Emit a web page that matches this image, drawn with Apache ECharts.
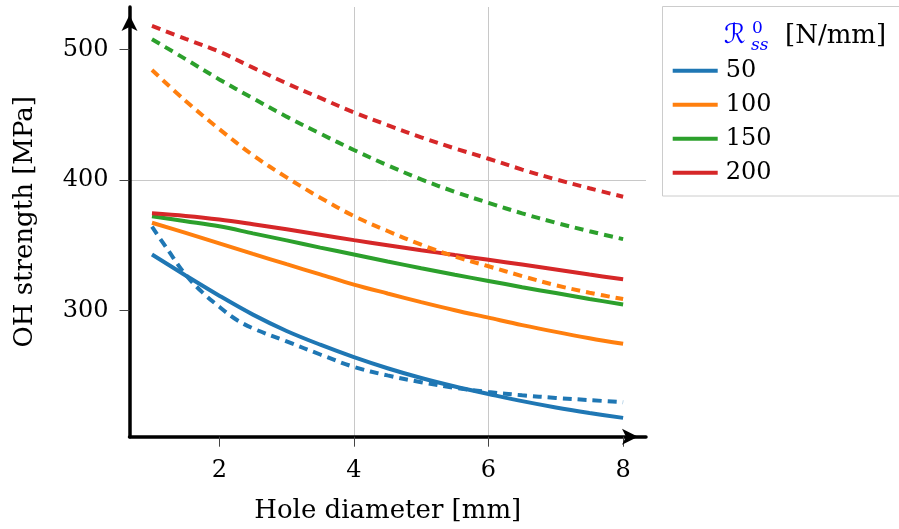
<!DOCTYPE html>
<html><head><meta charset="utf-8">
<script src="https://cdn.jsdelivr.net/npm/echarts@6/dist/echarts.min.js"></script>
<style>html,body{margin:0;padding:0;background:#fff}#c{width:899px;height:529px}</style>
</head><body><div id="c"></div>
<script>
// ---- data ----
const xs = [1, 1.5, 2, 2.5, 3, 3.5, 4, 4.5, 5, 5.5, 6, 6.5, 7, 7.5, 8];
const xsBlueDashed = [1, 1.25, 1.5, 1.75, 2, 2.25, 2.5, 3, 3.5, 4, 4.5, 5, 5.5, 6, 6.5, 7, 7.5, 8];
const legendNames = ['50', '100', '150', '200'];
const solid50  = [343, 327, 311.5, 297, 284.5, 274, 264.5, 256, 248.5, 242, 236.3, 230.8, 226, 221.8, 218];
const solid100 = [367.3, 359.5, 351.5, 343.5, 335.6, 327.8, 320, 313.2, 306.6, 300.4, 294.7, 289, 283.8, 279, 274.7];
const solid150 = [372.3, 368.5, 364.6, 359.2, 353.8, 348.3, 343, 337.7, 332.5, 327.5, 322.8, 318, 313.5, 309, 304.8];
const solid200 = [374.5, 372.5, 369.8, 366.2, 362.3, 358.2, 354, 350.1, 346.3, 342.6, 339, 335.3, 331.5, 327.7, 324];
const dashed50  = [364.3, 345.5, 327.5, 314, 303, 293.3, 286.5, 276.5, 266.5, 257, 250.5, 245.3, 241, 237.8, 235.3, 233.3, 231.6, 230];
const dashed100 = [484.2, 460.5, 439, 419, 402, 386.5, 372.4, 361, 350.5, 341.5, 334, 326.5, 319.5, 313.8, 308.9];
const dashed150 = [507.7, 492.5, 477, 462.5, 448.5, 435.5, 423, 411.3, 400.5, 391, 382.5, 374.5, 367.3, 360.8, 354.8];
const dashed200 = [517.9, 508, 498.2, 486, 474, 462.8, 451.8, 442, 432.7, 424.2, 416.3, 408, 400.5, 393.7, 387.2];
const xTicks = [2, 4, 6, 8];
const yTicks = [300, 400, 500];
const xName = 'Hole diameter [mm]';
const yName = 'OH strength [MPa]';
const legendUnit = '[N/mm]';

// ---- styling ----
const colors = ['#1f77b4', '#ff7f0e', '#2ca02c', '#d62728'];
const FONT = '"DejaVu Serif", serif';
const pairs = (x, y) => x.map((v, i) => [v, y[i]]);

const solids = [solid50, solid100, solid150, solid200];
const dashedSets = [[xsBlueDashed, dashed50], [xs, dashed100], [xs, dashed150], [xs, dashed200]];

const series = [];
solids.forEach((d, i) => series.push({
  name: legendNames[i], type: 'line', data: pairs(xs, d), smooth: 0.35,
  symbol: 'none', showSymbol: false, itemStyle: {color: colors[i]},
  lineStyle: {color: colors[i], width: 4}, emphasis: {disabled: true}, z: 2
}));
dashedSets.forEach((d, i) => series.push({
  name: legendNames[i] + ' dashed', type: 'line', data: pairs(d[0], d[1]), smooth: 0.35,
  symbol: 'none', showSymbol: false, itemStyle: {color: colors[i]},
  lineStyle: {color: colors[i], width: 4, type: [9, 6]}, emphasis: {disabled: true}, z: 3
}));

const chart = echarts.init(document.getElementById('c'), null, {renderer: 'canvas'});
chart.setOption({
  animation: false,
  backgroundColor: '#fff',
  grid: {left: 129.5, top: 7, width: 516.5, height: 429.7, containLabel: false, outerBoundsMode: 'none'},
  xAxis: {
    type: 'value', min: 0.666, max: 8.34,
    name: xName, nameLocation: 'middle', nameGap: 62,
    nameTextStyle: {fontFamily: FONT, fontSize: 26, color: '#000'},
    axisLine: {show: true, onZero: false, symbol: ['none', 'arrow'], symbolSize: [12, 16], symbolOffset: [0, -8],
      lineStyle: {color: '#000', width: 3.5}},
    axisTick: {show: true, customValues: xTicks, length: 10, lineStyle: {color: '#444', width: 1}},
    axisLabel: {customValues: xTicks, margin: 22, fontFamily: FONT, fontSize: 24, color: '#000'},
    splitLine: {show: true, showMinLine: false, showMaxLine: false, lineStyle: {color: '#c8c8c8', width: 1}}
  },
  yAxis: {
    type: 'value', min: 203.6, max: 532.4,
    name: yName, nameLocation: 'middle', nameGap: 91,
    nameTextStyle: {fontFamily: FONT, fontSize: 26, color: '#000'},
    axisLine: {show: true, onZero: false, symbol: ['none', 'arrow'], symbolSize: [12, 16], symbolOffset: [0, -8],
      lineStyle: {color: '#000', width: 3.5}},
    axisTick: {show: true, customValues: yTicks, length: 10, lineStyle: {color: '#444', width: 1}},
    axisLabel: {customValues: yTicks, margin: 21, fontFamily: FONT, fontSize: 24, color: '#000'},
    splitLine: {show: true, showMinLine: false, showMaxLine: false, lineStyle: {color: '#c8c8c8', width: 1}}
  },
  legend: {
    data: legendNames, orient: 'vertical', left: 667.7, top: 53.7,
    icon: 'rect', itemWidth: 45, itemHeight: 4, itemGap: 10,
    textStyle: {fontFamily: FONT, fontSize: 24, color: '#000', lineHeight: 24, padding: [0, 0, 0, 3]}
  },
  graphic: [
    {type: 'rect', silent: true, shape: {x: 662.5, y: 6.5, width: 260, height: 189.5},
      style: {fill: 'none', stroke: '#cccccc', lineWidth: 1}},
    {type: 'text', silent: true, x: 724, y: 36,
      style: {text: 'ℛ', fontFamily: '"DejaVu Serif", "DejaVu Sans"', fontSize: 27, fontStyle: 'italic', fill: '#0000ff', textVerticalAlign: 'middle'}},
    {type: 'text', silent: true, x: 752, y: 29,
      style: {text: '0', fontFamily: FONT, fontSize: 17, fill: '#0000ff', textVerticalAlign: 'middle'}},
    {type: 'text', silent: true, x: 751, y: 46,
      style: {text: 'ss', fontFamily: FONT, fontSize: 17, fontStyle: 'italic', fill: '#0000ff', textVerticalAlign: 'middle'}},
    {type: 'text', silent: true, x: 785, y: 36,
      style: {text: legendUnit, fontFamily: FONT, fontSize: 26, fill: '#000', textVerticalAlign: 'middle'}}
  ],
  series: series
});
</script>
</body></html>
